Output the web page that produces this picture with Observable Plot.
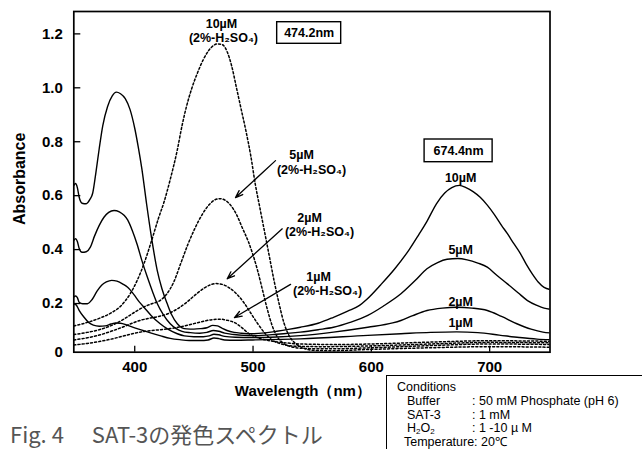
<!DOCTYPE html>
<html>
<head>
<meta charset="utf-8">
<script src="https://cdn.jsdelivr.net/npm/d3@7"></script>
<script src="https://cdn.jsdelivr.net/npm/@observablehq/plot@0.6"></script>
<style>
  html, body { margin: 0; padding: 0; background: #fff; }
  #wrap { position: relative; width: 642px; height: 449px; overflow: hidden; background: #fff; }
  #chart { position: absolute; left: 0; top: 0; }
  #caption { position: absolute; left: 10px; top: 422px; font-family: "Noto Sans CJK JP", "Noto Sans", sans-serif; font-size: 22px; line-height: 22px; color: #555; white-space: nowrap; }
  #caption .gap { display: inline-block; width: 28px; }
  #cond { position: absolute; left: 386px; top: 375px; width: 300px; height: 120px; border: 1px solid #000; border-right: none; background: #fff;
          font-family: "Liberation Sans", Arial, sans-serif; font-size: 12.5px; line-height: 13.75px; color: #000; padding: 5px 0 0 10px; box-sizing: border-box; }
  #cond .row { white-space: nowrap; height: 13.75px; }
  #cond .k { display: inline-block; width: 75px; padding-left: 10px; box-sizing: border-box; }
  #cond sub { font-size: 8px; line-height: 0; vertical-align: -2px; }
</style>
</head>
<body>
<div id="wrap">
  <div id="chart"></div>
  <div id="caption">Fig. 4<span class="gap"></span>SAT-3の発色スペクトル</div>
  <div id="cond">
    <div class="row">Conditions</div>
    <div class="row"><span class="k">Buffer</span>: 50 mM Phosphate (pH 6)</div>
    <div class="row"><span class="k">SAT-3</span>: 1 mM</div>
    <div class="row"><span class="k">H<sub>2</sub>O<sub>2</sub></span>: 1 -10 µ M</div>
    <div class="row">&nbsp;&nbsp;Temperature: 20℃</div>
  </div>
</div>
<script>
// ---------- axis ticks ----------
const xTicks = [400, 500, 600, 700];
const yTicks = [0, 0.2, 0.4, 0.6, 0.8, 1.0, 1.2];
const xDomain = [348.5, 751];
const yDomain = [0.0195, 1.283];

// ---------- series: [wavelength nm, absorbance] ----------
// solid lines: 50 mM phosphate (pH 6)
const solid_10uM = [[348.5,0.638],[350,0.645],[351.5,0.63],[353,0.595],[355.5,0.572],[359,0.57],[362,0.585],[364.5,0.61],[367,0.68],[370,0.775],[373,0.86],[377,0.93],[381,0.97],[384.5,0.984],[388,0.978],[392,0.96],[396,0.92],[400,0.85],[403,0.78],[406,0.7],[410,0.57],[414,0.45],[419,0.323],[423,0.255],[427.5,0.199],[431,0.16],[436,0.125],[440,0.11],[444,0.106],[450,0.105],[456,0.107],[461,0.11],[466,0.119],[470,0.117],[474,0.108],[478,0.1],[484,0.093],[490,0.09],[500,0.088],[510,0.091],[520,0.097],[530,0.104],[540,0.112],[555,0.127],[568,0.149],[580,0.172],[590,0.193],[596,0.215],[608,0.27],[620,0.33],[632,0.4],[640,0.455],[647,0.505],[655,0.57],[662,0.61],[668,0.63],[674.5,0.638],[680,0.63],[686,0.615],[692,0.594],[698,0.565],[704,0.53],[710,0.49],[715,0.459],[720,0.425],[726,0.385],[731,0.345],[736,0.31],[741,0.28],[746,0.26],[751,0.252]];
const solid_5uM = [[348.5,0.434],[350,0.44],[351.5,0.43],[353,0.405],[355.5,0.39],[359,0.392],[362.5,0.409],[366,0.45],[370,0.49],[374,0.52],[378,0.538],[382.5,0.545],[387,0.54],[391,0.527],[394,0.51],[398,0.47],[402,0.42],[406,0.36],[410.5,0.3],[415,0.245],[419,0.2],[424,0.16],[430,0.125],[435,0.107],[440,0.097],[447,0.092],[455,0.09],[461,0.093],[466.5,0.1],[471,0.097],[476,0.09],[484,0.085],[492,0.082],[500,0.081],[520,0.086],[540,0.094],[555,0.103],[568,0.112],[582,0.13],[597,0.156],[610,0.19],[625,0.236],[637,0.285],[647,0.329],[656,0.352],[664,0.364],[673,0.367],[681,0.362],[690,0.35],[698,0.335],[706,0.305],[715,0.273],[724,0.24],[732,0.211],[740,0.193],[746,0.183],[751,0.179]];
const solid_2uM = [[348.5,0.224],[350,0.228],[351.5,0.222],[353,0.205],[356,0.199],[360,0.199],[364,0.215],[368,0.245],[372,0.268],[376,0.28],[380.5,0.286],[385,0.283],[390,0.272],[394,0.26],[399,0.235],[404,0.205],[408,0.185],[414,0.155],[421.5,0.125],[428,0.105],[436,0.088],[442,0.08],[450,0.077],[458,0.077],[463,0.08],[467,0.086],[471,0.084],[476,0.078],[485,0.075],[500,0.074],[520,0.076],[540,0.081],[568,0.094],[597,0.112],[618,0.128],[625,0.137],[635,0.155],[647,0.174],[660,0.183],[672,0.186],[685,0.183],[698,0.174],[710,0.152],[723,0.125],[735,0.105],[745,0.094],[751,0.091]];
const solid_1uM = [[348.5,0.199],[350.5,0.195],[353,0.175],[357,0.15],[361,0.13],[365,0.12],[370,0.116],[375,0.117],[380,0.124],[384,0.128],[388,0.127],[393,0.121],[400,0.11],[407,0.1],[414,0.09],[422,0.08],[430,0.071],[438,0.066],[446,0.063],[455,0.063],[462,0.065],[467,0.072],[471,0.07],[476,0.065],[485,0.064],[500,0.065],[540,0.069],[597,0.082],[625,0.088],[650,0.093],[672,0.095],[690,0.092],[708,0.083],[725,0.074],[740,0.068],[751,0.066]];
// dotted lines: 2% H2SO4
const acid_10uM = [[348.5,0.117],[360,0.13],[370,0.145],[380,0.165],[388,0.19],[396,0.235],[402,0.285],[408,0.35],[414,0.43],[420,0.515],[425,0.58],[430,0.66],[436,0.77],[440,0.86],[444,0.935],[448,0.995],[453,1.055],[458,1.105],[462,1.135],[466,1.155],[470,1.163],[474,1.16],[478,1.135],[482,1.08],[486,1.0],[490,0.92],[494,0.84],[498,0.75],[502,0.64],[506,0.55],[510,0.46],[514,0.37],[518,0.28],[522,0.2],[526,0.13],[530,0.085],[535,0.055],[540,0.04],[550,0.027],[565,0.025],[600,0.03],[650,0.036],[700,0.04],[751,0.038]];
const acid_5uM = [[348.5,0.085],[360,0.093],[370,0.103],[380,0.118],[390,0.14],[400,0.168],[408,0.188],[415,0.2],[421,0.21],[427,0.235],[433,0.28],[439,0.35],[445,0.42],[451,0.48],[457,0.53],[463,0.567],[468,0.585],[472,0.589],[476,0.584],[481,0.565],[486,0.53],[491,0.48],[496,0.43],[500,0.38],[504,0.32],[508,0.25],[512,0.18],[516,0.12],[520,0.08],[525,0.055],[532,0.04],[545,0.033],[565,0.032],[600,0.036],[650,0.044],[700,0.05],[751,0.048]];
const acid_2uM = [[348.5,0.065],[360,0.073],[370,0.083],[380,0.097],[390,0.113],[398,0.127],[405,0.138],[412,0.145],[420,0.152],[428,0.162],[436,0.18],[444,0.205],[452,0.235],[459,0.258],[465,0.271],[469,0.274],[474,0.271],[480,0.258],[486,0.236],[492,0.205],[498,0.165],[504,0.125],[510,0.09],[516,0.065],[524,0.05],[535,0.042],[560,0.04],[600,0.043],[650,0.05],[700,0.056],[751,0.054]];
const acid_1uM = [[348.5,0.046],[360,0.052],[370,0.059],[380,0.068],[390,0.079],[398,0.088],[406,0.095],[414,0.1],[422,0.103],[430,0.107],[438,0.113],[446,0.121],[454,0.13],[461,0.137],[467,0.141],[472,0.142],[478,0.138],[485,0.128],[492,0.105],[496,0.09],[500,0.08],[506,0.07],[514,0.062],[524,0.056],[540,0.05],[570,0.048],[600,0.05],[650,0.057],[700,0.062],[751,0.06]];

const concentrations = ["10µM", "5µM", "2µM", "1µM"];
const solidSeries = [solid_10uM, solid_5uM, solid_2uM, solid_1uM];
const acidSeries = [acid_10uM, acid_5uM, acid_2uM, acid_1uM];

// ---------- annotations (data units) ----------
const acidLabelText = ["10µM", "(2%-H₂SO₄)", "5µM", "(2%-H₂SO₄)", "2µM", "(2%-H₂SO₄)", "1µM", "(2%-H₂SO₄)"];
const acidLabelX = [473.3, 475.0, 541.0, 549.4, 547.8, 556.2, 555.4, 563.0];
const acidLabelY = [1.238, 1.1865, 0.749, 0.697, 0.519, 0.4635, 0.300, 0.248];
const solidLabelX = 675.5;
const solidLabelY = [0.667, 0.397, 0.204, 0.126];
const peakLabels = ["474.2nm", "674.4nm"];
const peakBoxX1 = [520.4, 645.0], peakBoxX2 = [574.5, 702.5];
const peakBoxY1 = [1.1632, 0.7241], peakBoxY2 = [1.2433, 0.8083];
const arrowFromX = [519.0, 524.7, 531.7], arrowFromY = [0.730, 0.477, 0.271];
const arrowToX = [485.2, 478.2, 484.3], arrowToY = [0.593, 0.292, 0.148];

// ---------- build tables ----------
const rows = [];
concentrations.forEach((c, i) => {
  solidSeries[i].forEach(([nm, a]) => rows.push({key: "solid " + c, medium: "phosphate", nm, abs: a}));
  acidSeries[i].forEach(([nm, a]) => rows.push({key: "acid " + c, medium: "H2SO4", nm, abs: a}));
});
const acidLabels = acidLabelText.map((t, i) => ({t, x: acidLabelX[i], y: acidLabelY[i]}));
const solidLabels = concentrations.map((t, i) => ({t, x: solidLabelX, y: solidLabelY[i]}));
const peaks = peakLabels.map((t, i) => ({t, x1: peakBoxX1[i], x2: peakBoxX2[i], y1: peakBoxY1[i], y2: peakBoxY2[i],
  x: (peakBoxX1[i] + peakBoxX2[i]) / 2, y: (peakBoxY1[i] + peakBoxY2[i]) / 2}));
const arrows = arrowFromX.map((d, i) => ({x1: d, y1: arrowFromY[i], x2: arrowToX[i], y2: arrowToY[i]}));

const W = 642, H = 449, mL = 73.3, mR = 92.5, mT = 11, mB = 97.3;
const frameW = W - mL - mR, frameH = H - mT - mB;
const font = "'Liberation Sans', Arial, Helvetica, sans-serif";

const chart = Plot.plot({
  width: W, height: H,
  marginLeft: mL, marginRight: mR, marginTop: mT, marginBottom: mB,
  style: {fontFamily: font, fontSize: "15px", fontWeight: "bold", background: "#fff", color: "#000"},
  x: {domain: xDomain, ticks: xTicks, tickSize: 0, tickPadding: 9, tickFormat: d => String(d), label: null},
  y: {domain: yDomain, ticks: yTicks.map(t => Math.max(t, yDomain[0])), tickSize: 0, tickPadding: 11,
      tickFormat: d => d < 0.1 ? "0" : d.toFixed(1), label: null},
  marks: [
    Plot.line(rows.filter(d => d.medium === "H2SO4"), {x: "nm", y: "abs", z: "key", stroke: "#000", strokeWidth: 1.5,
      strokeDasharray: "2,2.2", curve: "monotone-x", clip: true}),
    Plot.line(rows.filter(d => d.medium === "phosphate"), {x: "nm", y: "abs", z: "key", stroke: "#000", strokeWidth: 1.4,
      curve: "monotone-x", clip: true}),
    Plot.tickX(xTicks, {x: d => d, insetTop: frameH - 6, stroke: "#000", strokeWidth: 1.3}),
    Plot.tickY(yTicks.filter(t => t > 0), {y: d => d, insetRight: frameW - 7, stroke: "#000", strokeWidth: 1.3}),
    Plot.frame({stroke: "#000", strokeWidth: 1.7}),
    Plot.rect(peaks, {x1: "x1", x2: "x2", y1: "y1", y2: "y2", fill: "#fff", stroke: "#000", strokeWidth: 1.4}),
    Plot.text(peaks, {x: "x", y: "y", text: "t", fontSize: 12.5, fontWeight: "bold"}),
    Plot.text(acidLabels, {x: "x", y: "y", text: "t", fontSize: 12.5, fontWeight: "bold"}),
    Plot.text(solidLabels, {x: "x", y: "y", text: "t", fontSize: 12.5, fontWeight: "bold"}),
    Plot.arrow(arrows, {x1: "x1", y1: "y1", x2: "x2", y2: "y2", stroke: "#000", strokeWidth: 1.3, headLength: 9, headAngle: 40}),
    Plot.text(["Absorbance"], {frameAnchor: "left", textAnchor: "middle", lineAnchor: "middle", rotate: -90, dx: -54, dy: -3, fontSize: 16, fontWeight: "bold"}),
    Plot.text(["Wavelength（nm）"], {frameAnchor: "bottom", textAnchor: "middle", lineAnchor: "middle", dx: -9, dy: 39, fontSize: 15, fontWeight: "bold"})
  ]
});
document.getElementById("chart").appendChild(chart);
</script>
</body>
</html>
